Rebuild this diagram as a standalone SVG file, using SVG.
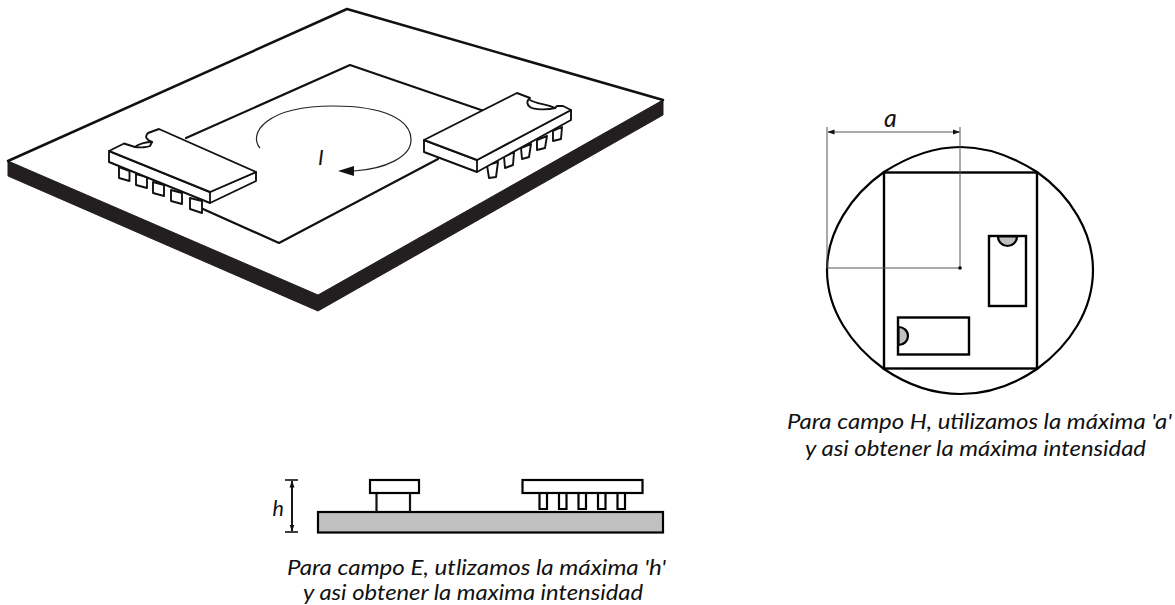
<svg xmlns="http://www.w3.org/2000/svg" width="1175" height="605" viewBox="0 0 1175 605">
<style>
.l{fill:none;stroke:#111;stroke-linejoin:round;stroke-linecap:round}
.w{fill:#fff;stroke:#111;stroke-width:1.9;stroke-linejoin:round}
.b{fill:#fff;stroke:#000;stroke-width:2.2}
.g{fill:#c0c0c0;stroke:#000;stroke-width:2.2}
.d{fill:none;stroke:#555;stroke-width:1}
text{font-family:Lato,"Open Sans",sans-serif;font-style:italic;fill:#111;font-size:21.500px}
</style>
<defs>
<marker id="ah" markerWidth="7" markerHeight="6" refX="6.5" refY="3" orient="auto-start-reverse" markerUnits="userSpaceOnUse"><path d="M0,0.5 L7,3 L0,5.5Z" fill="#111"/></marker>
</defs>
<rect width="1175" height="605" fill="#fff"/>
<g id="board">
<path d="M8,161 L8,176 L318,311 L663,115 L663,100 L318,295Z" fill="#231f20" stroke="#231f20" stroke-width="1" stroke-linejoin="round"/>
<path class="l" stroke-width="2.500" d="M8,161 L347,9 L663,100"/>
</g>
<g id="plane">
<path class="l" stroke-width="2.200" d="M186,138 L350,65 L484,111 M438,159 L279,243 L203,209"/>
</g>
<g id="chip-left">
<path class="w" d="M119,167V178L129.500,181V171ZM136,174V185L147,188V177ZM153,182V193L164,196V185ZM171,190V201L182,204V193ZM190,198V209L202,213V201Z"/>
<path class="w" d="M109,151 L109,162 L210,203 L256,181 L256,172 L210,192Z"/>
<path class="w" d="M109,151 L124,143.500 L135,147 C141,148 148,147 150,146 L152,142 C147,140 144,137 148,133 L159,129 L256,172 L210,192Z"/>
<path class="l" stroke-width="1.800" d="M210,192 L210,203 M135,147 C138,144 146,142 152,142"/>
</g>
<g id="chip-right">
<path class="w" d="M487,165L489,178L496,177L498,162ZM504,157L505,168L513,165L514,152ZM521,148L522,159L529,157L531,144ZM537,140L537,150L545,148L547,136ZM553,131L553,141L561,139L562,127Z"/>
<path class="w" d="M424,140 L424,152 L477,172 L571,120 L571,110 L477,160Z"/>
<path class="w" d="M424,140 L517,93 L530,98 C526,101 527,105 530,107 C534,110 548,110 555,108 L557,106 L563,106 L571,110 L477,160Z"/>
<path class="l" stroke-width="1.800" d="M477,160 L477,172 M530,100 C536,104 548,104 555,108"/>
</g>
<g id="current-loop">
<path d="M260,148 C248,134 265,106 333,106 C385,106 411,120 411,140 C411,157 385,169 354,171" fill="none" stroke="#222" stroke-width="1.200"/>
<path d="M338,171 L354,166 L354,176Z" fill="#111"/>
<text x="318" y="165">I</text>
</g>
<g id="side-view">
<rect class="g" x="318" y="512" width="345" height="20.500"/>
<path class="l" stroke="#000" stroke-width="2.200" d="M376.500,493V511M410,493V511"/>
<rect class="b" x="370" y="480" width="49" height="13"/>
<path class="b" d="M539.500,493V509H547V493M559,493V509H566.500V493M578.500,493V509H586V493M598,493V509H605.500V493M617.500,493V509H625V493"/>
<rect class="b" x="522.500" y="480" width="120" height="13"/>
<path d="M285,480H298M285,532H298" stroke="#000" stroke-width="1.600"/>
<path d="M292,481V531" stroke="#000" stroke-width="1.800" marker-start="url(#ah)" marker-end="url(#ah)"/>
<text x="272.500" y="516">h</text>
</g>
<g id="top-view">
<path d="M960.500,147 C990,147 1015,158 1037,172 C1070,195 1093,232 1093,270 C1093,310 1070,345 1037,369 C1015,384 990,394 960.500,394 C931,394 906,384 884,369 C851,345 827,310 827,270 C827,232 851,195 884,172 C906,158 931,147 960.500,147Z" fill="none" stroke="#000" stroke-width="2.200"/>
<rect x="884" y="172.500" width="153" height="196" fill="none" stroke="#000" stroke-width="2.400"/>
<rect x="989" y="236" width="37" height="70" fill="#fff" stroke="#000" stroke-width="2.400"/>
<path class="g" d="M998,236.500 A9.500,9.500 0 0 0 1017,236.500Z"/>
<rect x="898" y="317.500" width="71" height="37" fill="#fff" stroke="#000" stroke-width="2.400"/>
<path class="g" d="M898.500,327 A9.500,9 0 0 1 898.500,345Z"/>
<path class="d" d="M827,127V268H960M960,127V268"/>
<path class="d" d="M828,132H959.500" marker-start="url(#ah)" marker-end="url(#ah)"/>
<circle cx="960" cy="268" r="1.800" fill="#000"/>
<text x="884" y="127" style="font-size:25px">a</text>
</g>
<g id="captions">
<text x="787" y="429" textLength="385" lengthAdjust="spacingAndGlyphs">Para campo H, utilizamos la máxima 'a'</text>
<text x="805" y="456" textLength="341" lengthAdjust="spacingAndGlyphs">y asi obtener la máxima intensidad</text>
<text x="287" y="575" textLength="379" lengthAdjust="spacingAndGlyphs">Para campo E, utlizamos la máxima 'h'</text>
<text x="303" y="600" textLength="340" lengthAdjust="spacingAndGlyphs">y asi obtener la maxima intensidad</text>
</g>
</svg>
